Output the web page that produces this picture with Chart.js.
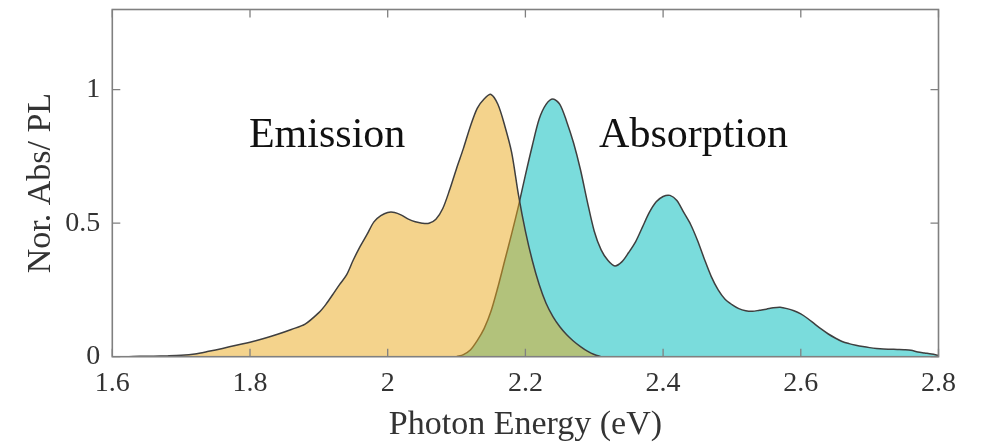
<!DOCTYPE html>
<html>
<head>
<meta charset="utf-8">
<script src="https://cdn.jsdelivr.net/npm/chart.js@4.4.1/dist/chart.umd.min.js"></script>
<style>
    html, body { margin: 0; padding: 0; background: #fff; }
    #wrap { width: 984px; height: 445px; }
</style>
</head>
<body>
<div id="wrap"><canvas id="chart"></canvas></div>
<script>
// 발광 스펙트럼 (eV, 정규화 세기)
const emissionEnergy = [1.60, 1.62, 1.64, 1.66, 1.68, 1.70, 1.72, 1.74, 1.76, 1.78, 1.80, 1.82, 1.84, 1.86, 1.88,
    1.90, 1.91, 1.92, 1.93, 1.94, 1.95, 1.96, 1.97, 1.98, 1.99, 2.00, 2.01, 2.02, 2.03, 2.04, 2.05, 2.06, 2.07,
    2.08, 2.09, 2.10, 2.11, 2.12, 2.13, 2.14, 2.15, 2.16, 2.17, 2.18, 2.19, 2.20, 2.21, 2.22, 2.23, 2.24, 2.25,
    2.26, 2.27, 2.28, 2.29, 2.30, 2.31];
const emissionValue = [0, 0, 0.002, 0.002, 0.003, 0.005, 0.010, 0.020, 0.031, 0.043, 0.054, 0.068, 0.084, 0.102, 0.122,
    0.165, 0.195, 0.232, 0.270, 0.305, 0.362, 0.413, 0.458, 0.505, 0.528, 0.540, 0.540, 0.530, 0.515, 0.505, 0.500, 0.500, 0.515,
    0.555, 0.625, 0.705, 0.780, 0.862, 0.930, 0.965, 0.982, 0.945, 0.865, 0.765, 0.605, 0.470, 0.360, 0.270, 0.200, 0.150, 0.112,
    0.082, 0.058, 0.038, 0.021, 0.008, 0];

// 흡수 스펙트럼
const absorptionEnergy = [2.10, 2.11, 2.12, 2.13, 2.14, 2.15, 2.16, 2.17, 2.18, 2.19, 2.20, 2.21, 2.22, 2.23, 2.24,
    2.25, 2.26, 2.27, 2.28, 2.29, 2.30, 2.31, 2.32, 2.33, 2.34, 2.35, 2.36, 2.37, 2.38, 2.39, 2.40, 2.41, 2.42,
    2.43, 2.44, 2.45, 2.46, 2.47, 2.48, 2.49, 2.50, 2.51, 2.52, 2.53, 2.54, 2.55, 2.56, 2.57, 2.58, 2.59, 2.60,
    2.61, 2.62, 2.63, 2.64, 2.65, 2.66, 2.67, 2.68, 2.69, 2.70, 2.71, 2.72, 2.73, 2.74, 2.75, 2.76, 2.77, 2.78,
    2.79, 2.80];
const absorptionValue = [0, 0.008, 0.025, 0.060, 0.105, 0.170, 0.260, 0.360, 0.460, 0.565, 0.680, 0.790, 0.890, 0.945, 0.965,
    0.945, 0.880, 0.800, 0.700, 0.580, 0.470, 0.400, 0.360, 0.340, 0.355, 0.390, 0.430, 0.485, 0.540, 0.580, 0.600, 0.604, 0.585,
    0.540, 0.495, 0.435, 0.365, 0.300, 0.250, 0.215, 0.195, 0.180, 0.172, 0.170, 0.174, 0.178, 0.183, 0.185, 0.180, 0.172, 0.160,
    0.143, 0.123, 0.103, 0.085, 0.070, 0.057, 0.049, 0.043, 0.038, 0.034, 0.031, 0.029, 0.028, 0.027, 0.026, 0.024, 0.018, 0.014,
    0.010, 0.005];

const xTicks = [1.6, 1.8, 2.0, 2.2, 2.4, 2.6, 2.8];
const yTicks = [0, 0.5, 1];

// 그림 위 글자 (데이터 좌표)
const labels = [
    {text: "Emission", x: 1.7985, y: 0.786},
    {text: "Absorption", x: 2.307, y: 0.786},
];

const serif = "'Liberation Serif', 'Times New Roman', serif";

function toPoints(xs, ys) {
    return xs.map((x, i) => ({x: x, y: ys[i]}));
}

// 상자 테두리 + 안쪽으로 향한 눈금, 글자
const boxPlugin = {
    id: "box",
    afterDatasetsDraw(chart) {
        const {ctx, chartArea: a, scales} = chart;
        const len = 8;
        ctx.save();
        ctx.strokeStyle = "#808080";
        ctx.lineWidth = 1.3;
        ctx.beginPath();
        for (const v of xTicks) {
            const px = scales.x.getPixelForValue(v);
            ctx.moveTo(px, a.bottom); ctx.lineTo(px, a.bottom - len);
            ctx.moveTo(px, a.top); ctx.lineTo(px, a.top + len);
        }
        for (const v of yTicks) {
            const py = scales.y.getPixelForValue(v);
            ctx.moveTo(a.left, py); ctx.lineTo(a.left + len, py);
            ctx.moveTo(a.right, py); ctx.lineTo(a.right - len, py);
        }
        ctx.stroke();
        ctx.lineWidth = 1.6;
        ctx.strokeRect(a.left, a.top, a.right - a.left, a.bottom - a.top);

        ctx.fillStyle = "#111";
        ctx.font = "42px " + serif;
        ctx.textBaseline = "alphabetic";
        ctx.textAlign = "left";
        for (const l of labels) {
            ctx.fillText(l.text, scales.x.getPixelForValue(l.x), scales.y.getPixelForValue(l.y));
        }
        ctx.restore();
    }
};

new Chart(document.getElementById("chart"), {
    type: "line",
    data: {
        datasets: [
            {
                label: "Emission",
                data: toPoints(emissionEnergy, emissionValue),
                borderColor: "#3f3f3f",
                borderWidth: 1.5,
                backgroundColor: "rgba(233,167,25,0.5)",
                fill: "origin",
                pointRadius: 0,
                tension: 0.3,
            },
            {
                label: "Absorption",
                data: toPoints(absorptionEnergy, absorptionValue),
                borderColor: "#3f3f3f",
                borderWidth: 1.5,
                backgroundColor: "#7adcdc",
                fill: "origin",
                pointRadius: 0,
                tension: 0.3,
            },
        ],
    },
    options: {
        responsive: true,
        maintainAspectRatio: false,
        animation: false,
        layout: {padding: {top: 9.5, right: 45.5, left: 0, bottom: 0}},
        plugins: {legend: {display: false}, tooltip: {enabled: false}},
        scales: {
            x: {
                type: "linear",
                min: 1.6, max: 2.8,
                afterBuildTicks: s => { s.ticks = xTicks.map(v => ({value: v})); },
                afterFit: s => { s.height = 88.3; s.paddingLeft = 0; s.paddingRight = 0; },
                grid: {display: false, drawTicks: false},
                border: {display: false},
                ticks: {
                    color: "#333",
                    font: {family: serif, size: 28},
                    padding: 10,
                    maxRotation: 0,
                    callback: v => String(Number(v.toFixed(1))),
                },
                title: {
                    display: true, text: "Photon Energy (eV)",
                    color: "#333",
                    font: {family: serif, size: 34},
                    padding: {top: 0, bottom: 0},
                },
            },
            y: {
                min: 0, max: 1.3,
                afterBuildTicks: s => { s.ticks = yTicks.map(v => ({value: v})); },
                afterFit: s => { s.width = 112.3; s.paddingTop = 0; s.paddingBottom = 0; },
                grid: {display: false, drawTicks: false},
                border: {display: false},
                ticks: {
                    color: "#333",
                    font: {family: serif, size: 28},
                    padding: 12,
                    callback: v => String(v),
                },
                title: {
                    display: true, text: "Nor. Abs/ PL",
                    color: "#333",
                    font: {family: serif, size: 34},
                    padding: {top: 21, bottom: 0},
                },
            },
        },
    },
    plugins: [boxPlugin],
});
</script>
</body>
</html>
